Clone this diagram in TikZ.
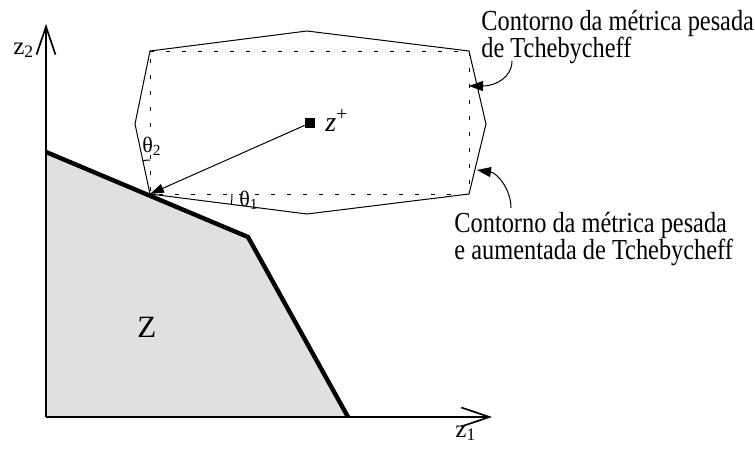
\documentclass[tikz,border=0pt]{standalone}
\usepackage{fontspec}
\setmainfont{Liberation Serif}
\newfontfamily\lblfont[FakeStretch=0.84]{Liberation Serif}
\usetikzlibrary{arrows.meta}
\definecolor{zfill}{HTML}{E0E0E0}
\begin{document}
\begin{tikzpicture}[x=0.5pt,y=-0.5pt,
  axis/.style={line width=0.85pt,-{Straight Barb[length=14pt,width=9.5pt]}},
  hexline/.style={line width=0.5pt,line join=miter},
  dashline/.style={line width=0.5pt,dash pattern=on 2pt off 6pt},
  zbound/.style={line width=2.2pt,line join=miter},
  callout/.style={line width=0.5pt,-{Triangle[length=7pt,width=5pt]}},
  lbl/.style={font={\lblfont\fontsize{14.5}{13.2}\selectfont\lineskiplimit=-20pt\relax},align=left,inner sep=0pt,anchor=base west},
  axlbl/.style={font=\fontsize{12.5}{14}\selectfont,inner sep=0pt,anchor=base west},
  anglbl/.style={font=\fontsize{11}{13}\selectfont,inner sep=0pt,anchor=base west},
  anglearc/.style={line width=0.5pt},
]
\useasboundingbox (0,0) rectangle (755,450);
% axes coordinates
\coordinate (O) at (46,417);
\coordinate (Ytop) at (46,24);
\coordinate (Xend) at (492,417);
% feasible region Z
\coordinate (z1p) at (46,152);
\coordinate (z2p) at (248,237);
\coordinate (z3p) at (348,417);
\fill[zfill] (z1p) -- (z2p) -- (z3p) -- (O) -- cycle;
\draw[axis] (O) -- (Ytop);
\draw[axis] (O) -- (Xend);
\draw[zbound] (z1p) -- (z2p) -- (z3p);
% contours
\coordinate (h1) at (150,51);
\coordinate (h2) at (307,31);
\coordinate (h3) at (469,51);
\coordinate (h4) at (486,124);
\coordinate (h5) at (469,194);
\coordinate (h6) at (307,214);
\coordinate (h7) at (150,194);
\coordinate (h8) at (135,124);
\draw[dashline] (h1) -- (h3) -- (h5) -- (h7) -- cycle;
\draw[hexline] (h1) -- (h2) -- (h3) -- (h4) -- (h5) -- (h6) -- (h7) -- (h8) -- cycle;
% ideal point
\node[fill=black,minimum size=5pt,inner sep=0pt] (zp) at (310,123) {};
\node[font=\fontsize{14}{16}\selectfont,inner sep=0pt,anchor=base west] (zplbl) at (325,131) {\textit{z}\textsuperscript{+}};
\draw[line width=0.5pt,-{Triangle[length=7pt,width=4.5pt]}] (zp) -- (h7);
% angles
\draw[anglearc] (h7) ++(82,0) arc[start angle=0,end angle=7.3,radius=82];
\draw[anglearc] (h7) ++(0,-34) arc[start angle=270,end angle=257.9,radius=34];
\node[anglbl] (th1) at (239,206) {θ\textsubscript{1}};
\node[anglbl] (th2) at (142,152) {θ\textsubscript{2}};
% labels
\node[axlbl] (lz2) at (13,54) {z\textsubscript{2}};
\node[axlbl] (lz1) at (455,437) {z\textsubscript{1}};
\node[font=\fontsize{15.5}{18}\selectfont,inner sep=0pt,anchor=base west] (lZ) at (137,337) {Z};
\node[lbl] (lab1) at (481,57) {Contorno da métrica pesada\\de Tchebycheff};
\node[lbl] (lab2) at (454,259) {Contorno da métrica pesada\\e aumentada de Tchebycheff};
% callout arrows
\coordinate (a1s) at (512,61);
\coordinate (a1e) at (469,86);
\coordinate (a2s) at (511,208);
\coordinate (a2e) at (477,170);
\draw[callout] (a1s) .. controls (512,77) and (496,86) .. (a1e);
\draw[callout] (a2s) .. controls (511,189) and (497,173) .. (a2e);
\end{tikzpicture}
\end{document}
